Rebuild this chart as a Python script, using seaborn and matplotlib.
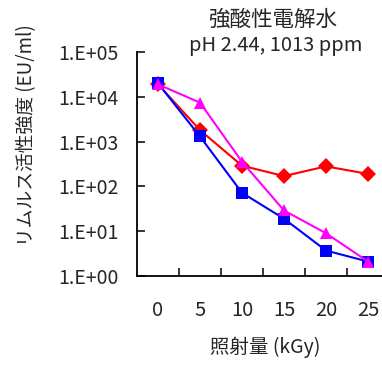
import matplotlib
matplotlib.use("Agg")
import matplotlib.pyplot as plt
from matplotlib.ticker import FixedLocator, NullLocator, FixedFormatter
import seaborn as sns
import pandas as pd

sns.set_style("white")
plt.rcParams["font.family"] = ["Noto Sans CJK JP", "DejaVu Sans"]

# Irradiation doses (kGy) and measured limulus activity (EU/ml)
doses = ["0", "5", "10", "15", "20", "25"]
series_a = [19000, 1800, 290, 170, 280, 190]      # red diamonds
series_b = [20000, 1300, 72, 19, 3.7, 2.1]        # blue squares
series_c = [19000, 7400, 355, 29, 9.0, 2.1]       # magenta triangles
series_names = ["A", "B", "C"]
colors = ["#FF0000", "#0000FF", "#FF00FF"]
markers = ["D", "s", "^"]
y_ticks = [1, 10, 100, 1000, 10000, 100000]
y_labels = ["1.E+00", "1.E+01", "1.E+02", "1.E+03", "1.E+04", "1.E+05"]

rows = []
for name, vals in zip(series_names, [series_a, series_b, series_c]):
    for i, v in enumerate(vals):
        rows.append({"pos": i, "value": v, "series": name})
df = pd.DataFrame(rows)

fig = plt.figure(figsize=(3.82, 3.67), dpi=100)
ax = fig.add_axes([137 / 382, 1 - 276 / 367, (389 - 137) / 382, (276 - 52) / 367])

sns.lineplot(
    data=df, x="pos", y="value", hue="series", style="series",
    palette=dict(zip(series_names, colors)),
    markers=dict(zip(series_names, markers)),
    dashes=False, linewidth=1.5, markersize=8.5, markeredgewidth=0,
    legend=False, ax=ax,
)

ax.set_yscale("log")
ax.set_ylim(1, 1e5)
ax.set_xlim(-0.5, 5.5)
ax.yaxis.set_major_locator(FixedLocator(y_ticks))
ax.yaxis.set_major_formatter(FixedFormatter(y_labels))
ax.yaxis.set_minor_locator(NullLocator())
ax.xaxis.set_major_locator(FixedLocator(range(len(doses))))
ax.xaxis.set_major_formatter(FixedFormatter(doses))
ax.xaxis.set_minor_locator(FixedLocator([k + 0.5 for k in range(len(doses) - 1)]))

ax.tick_params(axis="y", which="major", direction="in", length=6, width=1.3,
               labelsize=14, pad=13, left=True)
ax.tick_params(axis="x", which="major", length=0, labelsize=14.5, pad=17)
ax.tick_params(axis="x", which="minor", direction="in", length=6, width=1.3, bottom=True)

for side in ["top", "right"]:
    ax.spines[side].set_visible(False)
for side in ["left", "bottom"]:
    ax.spines[side].set_color("black")
    ax.spines[side].set_linewidth(1.3)

ax.set_xlabel("")
ax.set_ylabel("")

fig.text(273 / 382, 1 - 20 / 367, "強酸性電解水", ha="center", va="center", fontsize=15.5)
fig.text(276 / 382, 1 - 46 / 367, "pH 2.44, 1013 ppm", ha="center", va="center", fontsize=14.5)
fig.text(265 / 382, 1 - 347 / 367, "照射量 (kGy)", ha="center", va="center", fontsize=14)
fig.text(27 / 382, 1 - 135 / 367, "リムルス活性強度 (EU/ml)", ha="center", va="center",
         rotation=90, fontsize=13.5)

fig.savefig("out.png", dpi=100)
